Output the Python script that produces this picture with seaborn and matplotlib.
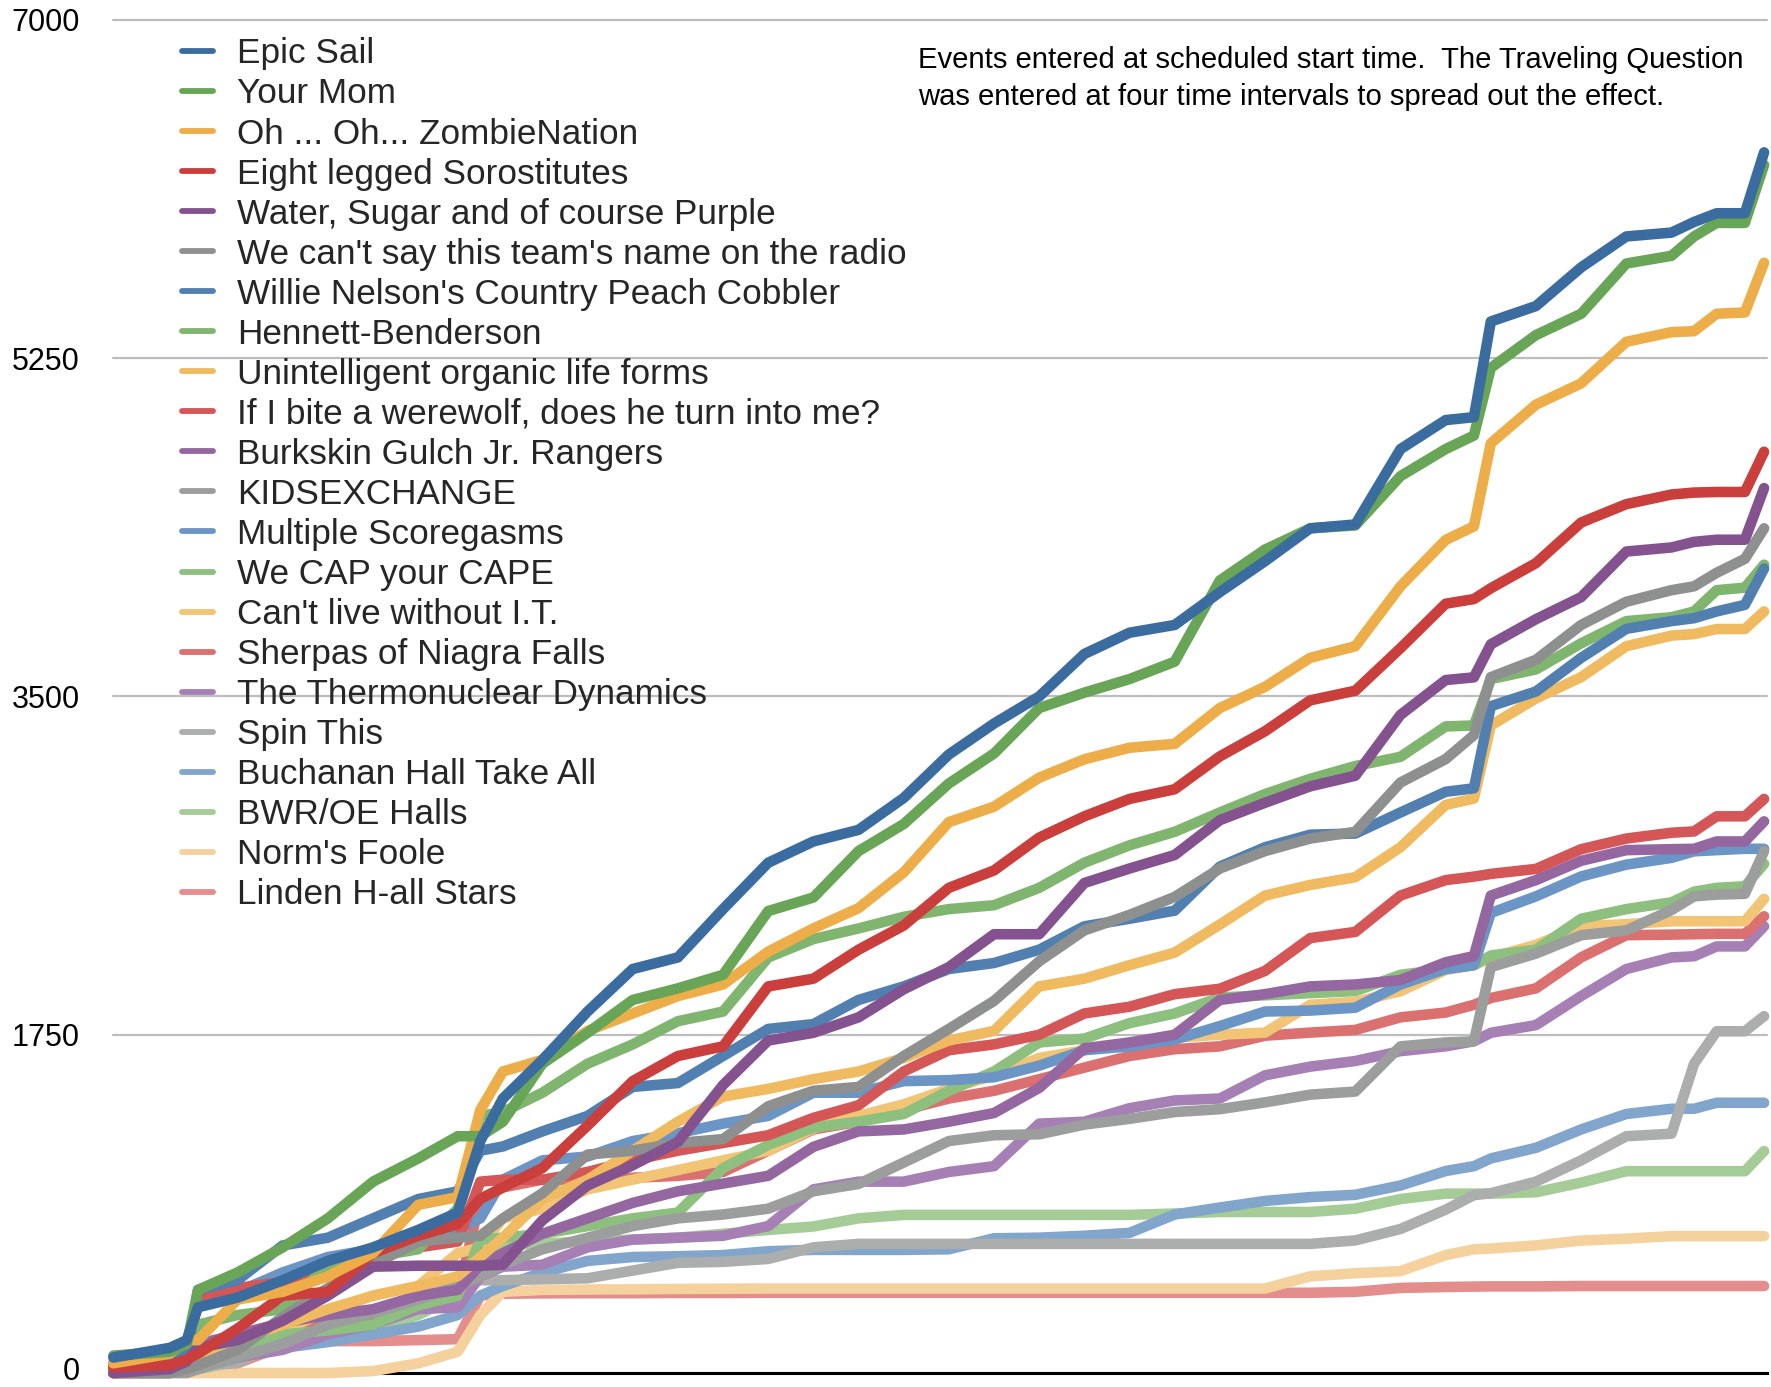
import matplotlib
matplotlib.use("Agg")
import matplotlib.pyplot as plt
import matplotlib.transforms as mtransforms
from matplotlib.lines import Line2D
import pandas as pd
import seaborn as sns

# elapsed event time (arbitrary units, left edge = 0)
event_time = [0, 50, 65, 75, 110, 150, 190, 230, 270, 305, 325, 345, 380, 420, 460, 500, 540, 580,
              620, 660, 700, 740, 780, 820, 860, 900, 940, 980, 1020, 1060, 1100, 1140, 1180, 1205,
              1220, 1260, 1300, 1340, 1380, 1400, 1420, 1445, 1462]

team_names = ["Epic Sail", "Your Mom", "Oh ... Oh... ZombieNation", "Eight legged Sorostitutes",
              "Water, Sugar and of course Purple", "We can't say this team's name on the radio",
              "Willie Nelson's Country Peach Cobbler", "Hennett-Benderson", "Unintelligent organic life forms",
              "If I bite a werewolf, does he turn into me?", "Burkskin Gulch Jr. Rangers", "KIDSEXCHANGE",
              "Multiple Scoregasms", "We CAP your CAPE", "Can't live without I.T.", "Sherpas of Niagra Falls",
              "The Thermonuclear Dynamics", "Spin This", "Buchanan Hall Take All", "BWR/OE Halls",
              "Norm's Foole", "Linden H-all Stars"]

team_colors = ["#3b6ca0", "#69a556", "#edad48", "#ca3f3b", "#84528e", "#8e8f8f",
               "#5180b0", "#80b56f", "#f0ba60", "#d45656", "#9567a1", "#9c9d9d",
               "#6b95c4", "#8dbf7e", "#f2c476", "#db7070", "#a680b4", "#acadad",
               "#82a5cc", "#a5cc96", "#f5d19e", "#e48d8d"]

epic_sail = [80, 130, 170, 340, 390, 480, 580, 650, 740, 830, 1200, 1420, 1620, 1870, 2090, 2150, 2400, 2640,
             2750, 2810, 2975, 3200, 3360, 3500, 3720, 3830, 3870, 4040, 4200, 4370, 4390, 4780, 4930, 4945,
             5440, 5520, 5720, 5880, 5900, 5955, 6000, 6000, 6315]
your_mom = [90, 110, 150, 430, 520, 650, 800, 990, 1110, 1225, 1225, 1300, 1600, 1760, 1930, 1990, 2060, 2390,
            2460, 2700, 2840, 3050, 3205, 3440, 3520, 3590, 3680, 4100, 4260, 4370, 4385, 4640, 4780, 4850,
            5200, 5370, 5480, 5740, 5780, 5880, 5950, 5950, 6250]
zombie_nation = [50, 100, 170, 170, 380, 420, 500, 620, 870, 910, 1360, 1560, 1620, 1770, 1860, 1950, 2010, 2180,
                 2300, 2405, 2590, 2850, 2930, 3080, 3175, 3235, 3255, 3440, 3550, 3700, 3760, 4070, 4310, 4380,
                 4810, 5010, 5120, 5335, 5385, 5390, 5480, 5487, 5744]
eight_legged = [30, 40, 70, 100, 230, 400, 420, 620, 710, 770, 900, 960, 1060, 1280, 1510, 1640, 1690, 2000,
                2040, 2190, 2315, 2510, 2600, 2770, 2880, 2970, 3020, 3190, 3320, 3480, 3530, 3750, 3980, 4004,
                4060, 4190, 4400, 4495, 4545, 4555, 4558, 4558, 4766]
water_sugar = [0, 20, 60, 130, 170, 270, 400, 550, 555, 555, 555, 560, 790, 970, 1075, 1195, 1490, 1720,
               1760, 1840, 1985, 2100, 2270, 2270, 2535, 2610, 2680, 2860, 2950, 3035, 3090, 3405, 3585, 3599,
               3770, 3900, 4014, 4250, 4271, 4300, 4311, 4311, 4578]
cant_say = [0, 0, 20, 40, 120, 290, 440, 560, 680, 700, 710, 800, 930, 1130, 1150, 1190, 1210, 1380,
            1460, 1480, 1640, 1780, 1925, 2130, 2290, 2370, 2463, 2610, 2700, 2765, 2800, 3055, 3176, 3300,
            3600, 3690, 3870, 3990, 4050, 4070, 4140, 4212, 4370]
willie_nelson = [50, 60, 100, 430, 480, 660, 700, 800, 900, 940, 1150, 1172, 1250, 1330, 1480, 1500, 1640, 1780,
                 1805, 1930, 2000, 2090, 2121, 2190, 2311, 2350, 2392, 2620, 2720, 2785, 2791, 2900, 3007, 3025,
                 3450, 3526, 3700, 3850, 3890, 3905, 3940, 3974, 4162]
hennett = [0, 20, 60, 250, 300, 330, 560, 600, 640, 850, 1330, 1350, 1450, 1600, 1700, 1820, 1870, 2150,
           2245, 2300, 2360, 2400, 2420, 2510, 2640, 2730, 2800, 2900, 2995, 3074, 3140, 3188, 3345, 3350,
           3590, 3640, 3775, 3890, 3910, 3940, 4050, 4063, 4182]
unintelligent = [0, 10, 40, 60, 170, 250, 330, 400, 450, 500, 600, 700, 900, 1000, 1150, 1300, 1430, 1470,
                 1520, 1560, 1630, 1720, 1770, 2000, 2040, 2110, 2175, 2320, 2470, 2525, 2565, 2720, 2939, 2972,
                 3350, 3490, 3600, 3760, 3815, 3823, 3849, 3849, 3940]
werewolf = [20, 40, 80, 400, 440, 470, 520, 600, 650, 680, 990, 1000, 1000, 1040, 1100, 1150, 1190, 1230,
            1320, 1385, 1560, 1670, 1700, 1750, 1860, 1895, 1960, 1988, 2080, 2250, 2282, 2470, 2550, 2568,
            2582, 2608, 2710, 2765, 2795, 2802, 2880, 2880, 2970]
burkskin = [0, 10, 30, 150, 200, 260, 300, 330, 400, 430, 560, 620, 720, 800, 880, 940, 980, 1020,
            1170, 1250, 1260, 1300, 1345, 1475, 1680, 1710, 1750, 1930, 1960, 2000, 2010, 2033, 2125, 2157,
            2470, 2550, 2650, 2705, 2710, 2712, 2750, 2750, 2854]
kidsexchange = [0, 0, 0, 20, 80, 150, 250, 310, 380, 450, 500, 560, 640, 700, 760, 800, 820, 850,
                940, 978, 1089, 1200, 1230, 1235, 1285, 1315, 1350, 1365, 1400, 1440, 1456, 1690, 1710, 1716,
                2100, 2170, 2265, 2290, 2395, 2466, 2475, 2479, 2700]
scoregasms = [30, 50, 80, 380, 420, 520, 600, 640, 700, 745, 800, 1000, 1100, 1120, 1200, 1240, 1290, 1330,
              1450, 1450, 1510, 1515, 1530, 1590, 1670, 1690, 1725, 1795, 1870, 1875, 1890, 2010, 2090, 2110,
              2380, 2466, 2569, 2630, 2665, 2699, 2705, 2712, 2712]
we_cap = [0, 10, 30, 50, 130, 200, 220, 250, 350, 400, 690, 700, 720, 760, 800, 830, 1060, 1180,
          1270, 1300, 1340, 1460, 1560, 1710, 1730, 1810, 1860, 1943, 1954, 1965, 1976, 2060, 2090, 2110,
          2160, 2190, 2350, 2400, 2435, 2490, 2510, 2518, 2634]
cant_live = [0, 0, 20, 40, 120, 220, 320, 400, 450, 620, 650, 800, 850, 950, 1000, 1050, 1100, 1150,
             1265, 1330, 1390, 1470, 1540, 1630, 1670, 1705, 1735, 1750, 1761, 1905, 1920, 1975, 2085, 2110,
             2150, 2215, 2311, 2322, 2337, 2337, 2337, 2337, 2453]
sherpas = [0, 10, 30, 60, 150, 200, 260, 300, 380, 400, 900, 960, 1000, 1000, 1010, 1020, 1040, 1150,
           1260, 1300, 1360, 1420, 1460, 1520, 1580, 1640, 1675, 1690, 1745, 1761, 1775, 1840, 1865, 1905,
           1940, 1990, 2150, 2265, 2268, 2270, 2272, 2272, 2363]
thermonuclear = [0, 0, 10, 30, 80, 120, 200, 250, 330, 340, 500, 550, 560, 650, 690, 700, 710, 760,
                 950, 990, 990, 1040, 1070, 1290, 1300, 1370, 1410, 1420, 1540, 1585, 1614, 1665, 1690, 1716,
                 1760, 1800, 1950, 2090, 2150, 2156, 2207, 2207, 2311]
spin_this = [0, 0, 20, 40, 50, 210, 240, 300, 400, 480, 480, 480, 485, 490, 530, 570, 575, 590,
             650, 668, 668, 668, 668, 668, 668, 668, 668, 668, 668, 668, 686, 745, 845, 920,
             930, 990, 1100, 1225, 1238, 1600, 1768, 1768, 1846]
buchanan = [40, 40, 60, 80, 100, 130, 160, 200, 240, 300, 400, 450, 520, 580, 600, 604, 610, 630,
            637, 637, 637, 640, 697, 700, 710, 725, 820, 856, 890, 910, 922, 970, 1045, 1070,
            1110, 1165, 1260, 1340, 1367, 1367, 1398, 1398, 1398]
bwr_oe = [0, 0, 10, 20, 60, 150, 210, 220, 300, 400, 640, 660, 670, 680, 690, 700, 720, 740,
          758, 800, 818, 818, 818, 818, 818, 818, 825, 833, 833, 833, 850, 900, 928, 928,
          928, 935, 985, 1044, 1044, 1044, 1044, 1044, 1148]
norms_foole = [0, 0, 0, 0, 0, 0, 0, 10, 50, 110, 300, 420, 430, 432, 433, 435, 436, 437,
               437, 437, 437, 437, 437, 437, 437, 437, 437, 437, 437, 500, 516, 527, 610, 640,
               644, 660, 685, 695, 708, 708, 708, 708, 708]
linden = [0, 0, 10, 20, 50, 140, 165, 165, 170, 175, 400, 410, 412, 413, 413, 414, 414, 415,
          415, 415, 415, 415, 415, 415, 415, 415, 415, 415, 415, 415, 420, 440, 445, 447,
          448, 448, 450, 450, 450, 450, 450, 450, 450]

y_ticks = [0, 1750, 3500, 5250, 7000]
note_text = ("Events entered at scheduled start time.  The Traveling Question\n"
             "was entered at four time intervals to spread out the effect.")

series = [epic_sail, your_mom, zombie_nation, eight_legged, water_sugar, cant_say, willie_nelson,
          hennett, unintelligent, werewolf, burkskin, kidsexchange, scoregasms, we_cap, cant_live,
          sherpas, thermonuclear, spin_this, buchanan, bwr_oe, norms_foole, linden]

sns.set_theme(style="white")
plt.rcParams['font.family'] = ['Liberation Sans', 'DejaVu Sans']

fig = plt.figure(figsize=(17.71, 13.87), dpi=100)
ax = fig.add_axes([0.064, 0.0101, 0.934, 0.9755])

n = len(team_names)
for i in reversed(range(n)):
    df = pd.DataFrame({"time": event_time, "score": series[i]})
    sns.lineplot(data=df, x="time", y="score", color=team_colors[i], linewidth=7.6,
                 ax=ax, zorder=3 + (n - i) * 0.01, clip_on=False, legend=False)

ax.set_xlim(0, 1465)
ax.set_ylim(0, 7000)
ax.set_yticks(y_ticks)
ax.set_yticklabels([str(t) for t in y_ticks])
ax.set_xticks([])
ax.set_xlabel("")
ax.set_ylabel("")
ax.grid(axis='y', color='#bdbdbd', linewidth=1.6)
ax.grid(axis='x', visible=False)
for gl in ax.get_ygridlines():
    gl.set_clip_on(False)
for s in ["left", "right", "top"]:
    ax.spines[s].set_visible(False)
ax.spines["bottom"].set_color("black")
ax.spines["bottom"].set_linewidth(2.2)
ax.tick_params(axis='y', length=0, pad=24, labelsize=22, labelcolor='black')
ax.set_facecolor('white')

# nudge the bottom "0" label up slightly so it stays inside the canvas
zero_lbl = ax.get_yticklabels()[0]
zero_lbl.set_transform(zero_lbl.get_transform() +
                       mtransforms.ScaledTranslation(0, 3 / 72, fig.dpi_scale_trans))

handles = [Line2D([0], [0], color=team_colors[i], linewidth=4.2) for i in range(n)]
fig.legend(handles, team_names, loc='upper left', bbox_to_anchor=(0.103, 0.973),
           frameon=False, fontsize=25.3, handlelength=0.88, handletextpad=0.68,
           labelspacing=0.2, borderpad=0, borderaxespad=0)

fig.text(0.5184, 0.967, note_text, ha='left', va='top', fontsize=21.1, linespacing=1.41, color='black')

fig.savefig("out.png", dpi=100, facecolor='white')
